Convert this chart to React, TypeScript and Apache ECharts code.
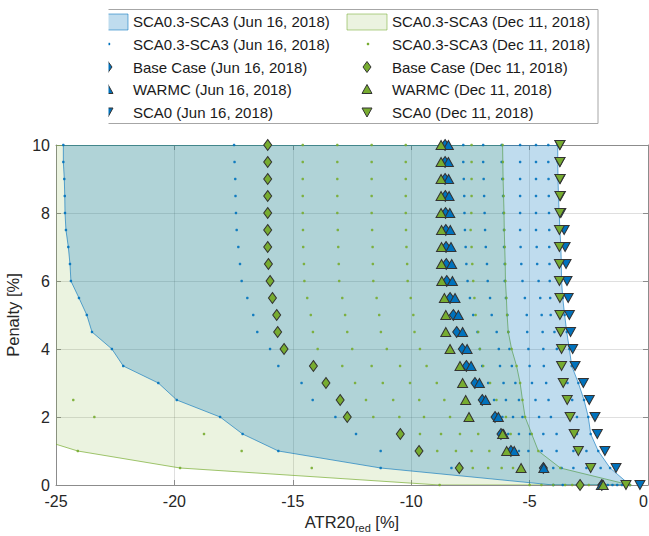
import React, { useEffect, useRef } from "react";
import * as echarts from "echarts";

// Penalty levels [%]
const penalty = [0, 0.5, 1, 1.5, 2, 2.5, 3, 3.5, 4, 4.5, 5, 5.5, 6, 6.5, 7, 7.5, 8, 8.5, 9, 9.5, 10];

// Jun 16, 2018 – SCA0.3 ... SCA3 runs (ATR20red per penalty level)
const junScaA = [-4.0, -11.29, -15.61, -17.12, -18.07, -19.9, -20.68, -22.16, -22.64, -23.48, -23.7, -24.03, -24.37, -24.41, -24.48, -24.58, -24.62, -24.63, -24.65, -24.69, -24.69];
const junScaB = [-3.6, -8.3, -11.29, -12.33, -13.2, -14.16, -14.63, -15.61, -15.96, -16.5, -16.67, -16.92, -17.16, -17.23, -17.3, -17.37, -17.4, -17.42, -17.43, -17.46, -17.48];
const junScaC = [-1.95, -4.42, -5.45, -5.9, -6.15, -6.5, -6.75, -7.0, -7.1, -7.2, -7.38, -7.52, -7.62, -7.67, -7.7, -7.73, -7.75, -7.76, -7.78, -7.8, -7.8];
const junScaD = [-1.7, -4.0, -5.05, -5.45, -5.7, -6.0, -6.1, -6.25, -6.3, -6.39, -6.6, -6.67, -6.77, -6.8, -6.85, -6.88, -6.9, -6.92, -6.94, -6.96, -6.96];
const junScaE = [-1.5, -3.65, -4.49, -4.98, -5.3, -5.45, -5.6, -5.75, -5.85, -5.9, -5.94, -6.0, -6.05, -6.05, -6.08, -6.08, -6.1, -6.12, -6.15, -6.18, -6.18];
const junScaF = [-1.3, -3.15, -3.86, -4.42, -4.6, -4.75, -4.9, -5.0, -5.05, -5.1, -5.12, -5.2, -5.3, -5.35, -5.38, -5.4, -5.4, -5.4, -5.4, -5.4, -5.4];
const junScaG = [-1.1, -2.6, -3.15, -3.86, -4.1, -4.2, -4.3, -4.4, -4.42, -4.45, -4.49, -4.55, -4.62, -4.68, -4.7, -4.73, -4.73, -4.73, -4.73, -4.73, -4.73];
const junScaH = [-0.9, -2.0, -2.6, -3.0, -3.0, -3.2, -3.4, -3.7, -3.85, -3.95, -4.11, -4.13, -4.15, -4.16, -4.17, -4.17, -4.18, -4.19, -4.2, -4.21, -4.21];
const junScaI = [-0.76, -1.6, -2.1, -2.42, -2.52, -2.7, -2.94, -3.22, -3.32, -3.43, -3.52, -3.6, -3.65, -3.66, -3.68, -3.72, -3.75, -3.78, -3.8, -3.81, -3.81];

// Dec 11, 2018 – SCA0.3 ... SCA3 runs
const decScaA = [-8.8, -19.76, -24.08, -26.4, -27.3, -27.8, -28.0, -28.2, -28.3, -28.4, -28.5, -28.5, -28.6, -28.6, -28.7, -28.7, -28.7, -28.8, -28.8, -28.8, -28.8];
const decScaB = [-5.0, -14.2, -17.16, -18.75, -23.38, -24.27, -25.5, -26.0, -26.2, -26.3, -26.4, -26.4, -26.5, -26.5, -26.5, -26.5, -26.5, -26.5, -26.5, -26.5, -26.5];
const decScaC = [-4.5, -7.4, -8.9, -9.63, -11.6, -11.91, -12.37, -12.91, -13.95, -14.15, -14.24, -14.39, -14.51, -14.53, -14.56, -14.57, -14.58, -14.58, -14.58, -14.58, -14.58];
const decScaD = [-4.0, -6.75, -8.11, -8.74, -10.5, -10.76, -11.2, -11.67, -12.49, -12.7, -12.79, -12.91, -13.04, -13.06, -13.08, -13.1, -13.12, -13.12, -13.12, -13.12, -13.12];
const decScaE = [-3.5, -6.18, -7.45, -7.94, -9.46, -9.66, -10.05, -10.47, -11.03, -11.28, -11.35, -11.46, -11.6, -11.62, -11.63, -11.65, -11.67, -11.67, -11.67, -11.67, -11.67];
const decScaF = [-3.2, -5.7, -6.7, -7.17, -8.36, -8.6, -8.92, -9.35, -9.63, -9.86, -9.91, -10.02, -10.15, -10.17, -10.2, -10.22, -10.23, -10.23, -10.23, -10.23, -10.23];
const decScaG = [-2.5, -5.3, -5.6, -5.8, -6.0, -6.4, -6.67, -6.96, -7.1, -7.17, -7.28, -7.33, -7.38, -7.42, -7.45, -7.49, -7.46, -7.45, -7.45, -7.45, -7.45];
const decScaH = [-0.76, -3.7, -4.63, -4.91, -5.19, -5.3, -5.4, -5.55, -5.76, -5.9, -5.95, -5.98, -6.02, -6.03, -6.05, -6.07, -6.08, -6.1, -6.12, -6.13, -6.14];

// Reference cases
const junBase = [-1.95, -4.42, -5.79, -6.21, -6.46, -7.0, -7.31, -7.67, -7.84, -8.08, -8.22, -8.36, -8.5, -8.52, -8.53, -8.54, -8.55, -8.56, -8.57, -8.57, -8.57];
const junWarmc = [-1.97, -4.4, -5.65, -6.1, -6.32, -6.86, -7.12, -7.47, -7.64, -7.83, -8.01, -8.15, -8.26, -8.29, -8.32, -8.35, -8.37, -8.4, -8.42, -8.43, -8.43];
const junSca0 = [-0.34, -1.35, -1.82, -2.14, -2.24, -2.48, -2.73, -3.08, -3.18, -3.27, -3.32, -3.37, -3.42, -3.46, -3.5, -3.54, -3.68, -3.7, -3.71, -3.72, -3.72];
const decBase = [-2.87, -7.97, -9.67, -10.46, -12.7, -13.0, -13.6, -14.13, -15.37, -15.64, -15.68, -15.86, -15.96, -16.03, -16.06, -16.06, -16.06, -16.06, -16.06, -16.06, -16.06];
const decWarmc = [-1.89, -5.36, -5.97, -6.14, -7.56, -7.7, -7.83, -7.94, -8.36, -8.54, -8.54, -8.6, -8.71, -8.72, -8.72, -8.72, -8.74, -8.74, -8.74, -8.74, -8.74];
const decSca0 = [-0.93, -2.42, -2.94, -3.12, -3.29, -3.41, -3.58, -3.65, -3.65, -3.69, -3.72, -3.72, -3.74, -3.74, -3.74, -3.74, -3.72, -3.72, -3.72, -3.72, -3.72];

// Axis ticks
const xTicks = { min: -25, max: 0, interval: 5 };
const yTicks = { min: 0, max: 10, interval: 2 };

const legendLabels = [
  ["SCA0.3-SCA3 (Jun 16, 2018)", "SCA0.3-SCA3 (Dec 11, 2018)"],
  ["SCA0.3-SCA3 (Jun 16, 2018)", "SCA0.3-SCA3 (Dec 11, 2018)"],
  ["Base Case (Jun 16, 2018)", "Base Case (Dec 11, 2018)"],
  ["WARMC (Jun 16, 2018)", "WARMC (Dec 11, 2018)"],
  ["SCA0 (Jun 16, 2018)", "SCA0 (Dec 11, 2018)"],
];

const BLUE = "#0072BD";
const GREEN = "#77AC30";
const EDGE = "#333333";
const BLUE_FILL = "rgba(0,114,189,0.25)";
const GREEN_FILL = "rgba(119,172,48,0.15)";
const FONT = "'Liberation Sans', Arial, Helvetica, sans-serif";

const junRuns = [junScaA, junScaB, junScaC, junScaD, junScaE, junScaF, junScaG, junScaH, junScaI];
const decRuns = [decScaA, decScaB, decScaC, decScaD, decScaE, decScaF, decScaG, decScaH];

function envelope(runs: number[][]) {
  const lo = penalty.map((p, i) => [Math.min(...runs.map((r) => r[i])), p]);
  const hi = penalty.map((p, i) => [Math.max(...runs.map((r) => r[i])), p]);
  return lo.concat(hi.reverse());
}

function pairs(xs: number[]) {
  return xs.map((x, i) => [x, penalty[i]]);
}

function areaSeries(name: string, runs: number[][], fill: string, stroke: string, z: number) {
  const poly = envelope(runs);
  return {
    type: "custom",
    name,
    clip: true,
    z,
    silent: true,
    data: [[-10, 5]],
    encode: { x: 0, y: 1 },
    renderItem: (params: any, api: any) => {
      const pts = poly.map((pt) => api.coord(pt));
      const cs = params.coordSys;
      return {
        type: "group",
        children: [
          {
            type: "polygon",
            shape: { points: pts },
            style: { fill, stroke, lineWidth: 1 },
          },
        ],
        clipPath: { type: "rect", shape: { x: cs.x, y: cs.y, width: cs.width, height: cs.height } },
      };
    },
  };
}

function markerSeries(name: string, xs: number[], color: string, symbol: string, size: any, rotate: number, z: number) {
  return {
    type: "scatter",
    name,
    data: pairs(xs),
    symbol,
    symbolSize: size,
    symbolRotate: rotate,
    z,
    itemStyle: { color, borderColor: EDGE, borderWidth: 1, opacity: 1 },
    emphasis: { disabled: true },
  };
}

function dotSeries(name: string, runs: number[][], color: string, z: number) {
  return {
    type: "scatter",
    name,
    data: runs.flatMap((r) => pairs(r)),
    symbol: "circle",
    symbolSize: 2.6,
    z,
    itemStyle: { color, opacity: 0.9 },
    emphasis: { disabled: true },
  };
}

function legendGraphics() {
  const els: any[] = [];
  const rowY = [21, 44, 67, 89.5, 112];
  const colText = [133, 392];
  const colors = [BLUE, GREEN];
  els.push({
    type: "rect",
    z: 100,
    shape: { x: 80, y: 9.5, width: 518, height: 114 },
    style: { fill: "#ffffff", stroke: "#a6a6a6", lineWidth: 1 },
  });
  for (let c = 0; c < 2; c++) {
    const tx = colText[c];
    const cx = tx - 25;
    const col = colors[c];
    // area swatch
    els.push({
      type: "rect",
      z: 101,
      shape: { x: tx - 45, y: rowY[0] - 7, width: 40, height: 16 },
      style: {
        fill: c === 0 ? BLUE_FILL : GREEN_FILL,
        stroke: c === 0 ? "rgba(0,114,189,0.55)" : "rgba(119,172,48,0.55)",
        lineWidth: 1,
      },
    });
    // dot
    els.push({ type: "circle", z: 101, shape: { cx: cx + 1, cy: rowY[1], r: 1.3 }, style: { fill: col } });
    // diamond
    els.push({
      type: "polygon",
      z: 101,
      shape: { points: [[cx, rowY[2] - 5.5], [cx + 4, rowY[2]], [cx, rowY[2] + 5.5], [cx - 4, rowY[2]]] },
      style: { fill: col, stroke: EDGE, lineWidth: 1 },
    });
    // up triangle
    els.push({
      type: "polygon",
      z: 101,
      shape: { points: [[cx, rowY[3] - 5], [cx + 5, rowY[3] + 4], [cx - 5, rowY[3] + 4]] },
      style: { fill: col, stroke: EDGE, lineWidth: 1 },
    });
    // down triangle
    els.push({
      type: "polygon",
      z: 101,
      shape: { points: [[cx - 5, rowY[4] - 4], [cx + 5, rowY[4] - 4], [cx, rowY[4] + 5]] },
      style: { fill: col, stroke: EDGE, lineWidth: 1 },
    });
    for (let r = 0; r < 5; r++) {
      els.push({
        type: "text",
        z: 102,
        x: tx,
        y: rowY[r],
        style: {
          text: legendLabels[r][c],
          font: `15px ${FONT}`,
          fill: "#1a1a1a",
          verticalAlign: "middle",
        },
      });
    }
  }
  // the original figure is cropped through the left part of the legend
  els.push({
    type: "rect",
    z: 110,
    shape: { x: 0, y: 0, width: 108.5, height: 130 },
    style: { fill: "#ffffff" },
  });
  return els;
}

export default function App() {
  const ref = useRef<HTMLDivElement>(null);
  useEffect(() => {
    if (!ref.current) return;
    const chart = echarts.init(ref.current, undefined, { renderer: "svg" });
    const axisLine = { show: true, onZero: false, lineStyle: { color: "#8c8c8c", width: 1 } };
    const axisTick = { show: true, inside: true, length: 5, lineStyle: { color: "#8c8c8c" } };
    const grid = { lineStyle: { color: "rgba(38,38,38,0.15)", width: 1 } };
    const option: any = {
      animation: false,
      backgroundColor: "#ffffff",
      textStyle: { fontFamily: FONT },
      grid: { left: 56, right: 1, top: 145, bottom: 51, containLabel: false, outerBoundsMode: "none" },
      xAxis: [
        {
          type: "value",
          ...xTicks,
          position: "bottom",
          axisLine,
          axisTick,
          splitLine: { show: true, ...grid },
          axisLabel: { color: "#262626", fontSize: 16, margin: 8, fontFamily: FONT, alignMaxLabel: "right" },
          name: "ATR20{sub|red} [%]",
          nameLocation: "middle",
          nameGap: 24,
          nameTextStyle: {
            color: "#262626",
            fontSize: 16.5,
            fontFamily: FONT,
            rich: { sub: { fontSize: 11, fontFamily: FONT, color: "#262626", padding: [12, 0, 0, 0] } },
          },
        },
        {
          type: "value",
          ...xTicks,
          position: "top",
          axisLine,
          axisTick,
          splitLine: { show: false },
          axisLabel: { show: false },
        },
      ],
      yAxis: [
        {
          type: "value",
          ...yTicks,
          position: "left",
          axisLine,
          axisTick,
          splitLine: { show: true, ...grid },
          axisLabel: { color: "#262626", fontSize: 16, margin: 6, fontFamily: FONT },
          name: "Penalty [%]",
          nameLocation: "middle",
          nameRotate: 90,
          nameGap: 31,
          nameTextStyle: { color: "#262626", fontSize: 16.5, fontFamily: FONT },
        },
        {
          type: "value",
          ...yTicks,
          position: "right",
          axisLine,
          axisTick,
          splitLine: { show: false },
          axisLabel: { show: false },
        },
      ],
      graphic: legendGraphics(),
      series: [
        areaSeries("decArea", decRuns, GREEN_FILL, "rgba(119,172,48,0.7)", 1),
        areaSeries("junArea", junRuns, BLUE_FILL, "rgba(0,114,189,0.6)", 2),
        dotSeries("junDots", junRuns, BLUE, 3),
        dotSeries("decDots", decRuns, GREEN, 3),
        markerSeries("junBase", junBase, BLUE, "diamond", [8, 11], 0, 4),
        markerSeries("junWarmc", junWarmc, BLUE, "triangle", [10, 9], 0, 4),
        markerSeries("junSca0", junSca0, BLUE, "triangle", [10, 9], 180, 4),
        markerSeries("decBase", decBase, GREEN, "diamond", [8, 11], 0, 5),
        markerSeries("decWarmc", decWarmc, GREEN, "triangle", [10, 9], 0, 5),
        markerSeries("decSca0", decSca0, GREEN, "triangle", [10, 9], 180, 5),
      ],
    };
    chart.setOption(option);
    return () => chart.dispose();
  }, []);
  return (
    <div
      ref={ref}
      style={{ position: "absolute", left: 0, top: 0, width: 649, height: 536, background: "#fff" }}
    />
  );
}
